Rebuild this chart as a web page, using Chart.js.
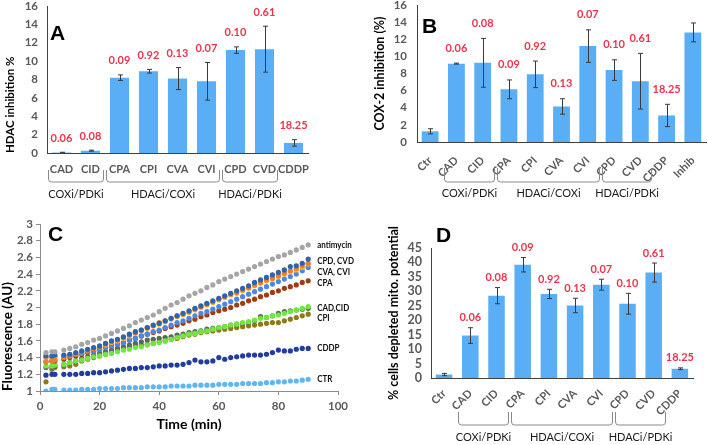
<!DOCTYPE html>
<html>
<head>
<meta charset="utf-8">
<script src="https://cdn.jsdelivr.net/npm/chart.js@4"></script>
<style>
  body { margin: 0; background: #fff; width: 708px; height: 445px; position: relative; overflow: hidden; }
  .panel { position: absolute; }
</style>
</head>
<body>
<div class="panel" style="left:0;top:0;width:354px;height:220px"><canvas id="chart-a"></canvas></div>
<div class="panel" style="left:354px;top:0;width:354px;height:220px"><canvas id="chart-b"></canvas></div>
<div class="panel" style="left:0;top:220px;width:354px;height:225px"><canvas id="chart-c"></canvas></div>
<div class="panel" style="left:354px;top:220px;width:354px;height:225px"><canvas id="chart-d"></canvas></div>
<script>
'use strict';

// PANEL A - HDAC inhibition
let catsA = ['CAD', 'CID', 'CPA', 'CPI', 'CVA', 'CVI', 'CPD', 'CVD', 'CDDP'];
let hdacMean = [0.05, 0.25, 8.2, 8.9, 8.1, 7.8, 11.2, 11.3, 1.1];
let hdacErr = [0.03, 0.06, 0.3, 0.2, 1.2, 2.05, 0.35, 2.5, 0.35];
let ic50A = ['0.06', '0.08', '0.09', '0.92', '0.13', '0.07', '0.10', '0.61', '18.25'];
let ticksA = [0, 2, 4, 6, 8, 10, 12, 14, 16];
let groupsA = [['COXi/PDKi', 0, 1], ['HDACi/COXi', 2, 5], ['HDACi/PDKi', 6, 7]];

// PANEL B - COX-2 inhibition
let catsB = ['Ctr', 'CAD', 'CID', 'CPA', 'CPI', 'CVA', 'CVI', 'CPD', 'CVD', 'CDDP', 'Inhib'];
let coxMean = [1.25, 9.15, 9.25, 6.15, 7.9, 4.15, 11.2, 8.4, 7.1, 3.1, 12.8];
let coxErr = [0.3, 0.06, 2.85, 1.1, 1.55, 0.9, 1.9, 1.2, 3.25, 1.3, 1.1];
let ic50B = ['', '0.06', '0.08', '0.09', '0.92', '0.13', '0.07', '0.10', '0.61', '18.25', ''];
let ticksB = [0, 2, 4, 6, 8, 10, 12, 14, 16];
let groupsB = [['COXi/PDKi', 1, 2], ['HDACi/COXi', 3, 6], ['HDACi/PDKi', 7, 8]];

// PANEL D - cells with depleted mitochondrial potential
let catsD = ['Ctr', 'CAD', 'CID', 'CPA', 'CPI', 'CVA', 'CVI', 'CPD', 'CVD', 'CDDP'];
let mitoMean = [1.2, 14.7, 28.5, 39.2, 29.1, 25.1, 32.3, 25.7, 36.5, 3.2];
let mitoErr = [0.4, 2.7, 2.8, 2.5, 1.6, 2.5, 1.9, 3.6, 3.3, 0.3];
let ic50D = ['', '0.06', '0.08', '0.09', '0.92', '0.13', '0.07', '0.10', '0.61', '18.25'];
let ticksD = [0, 5, 10, 15, 20, 25, 30, 35, 40, 45];
let groupsD = [['COXi/PDKi', 1, 2], ['HDACi/COXi', 3, 6], ['HDACi/PDKi', 7, 8]];

// PANEL C - fluorescence over time
let minutes = [2, 4, 5, 8, 10, 12, 14, 16, 18, 20, 22, 24, 26, 28, 30,
  32, 34, 36, 38, 40, 42, 44, 46, 48, 50, 52, 54, 56, 58, 60,
  62, 64, 66, 68, 70, 72, 74, 76, 78, 80, 82, 84, 86, 88, 90];
let antimycin = [1.46, 1.47, 1.47, 1.49, 1.51, 1.53, 1.56, 1.58, 1.61, 1.63, 1.66, 1.69, 1.72, 1.75, 1.78,
  1.82, 1.85, 1.88, 1.91, 1.95, 1.99, 2.03, 2.06, 2.10, 2.14, 2.17, 2.20, 2.24, 2.27, 2.31,
  2.34, 2.37, 2.40, 2.43, 2.46, 2.49, 2.52, 2.55, 2.58, 2.61, 2.63, 2.66, 2.69, 2.72, 2.75];
let cpd = [1.42, 1.42, 1.43, 1.43, 1.44, 1.46, 1.48, 1.50, 1.52, 1.54, 1.57, 1.60, 1.62, 1.65, 1.68,
  1.71, 1.73, 1.76, 1.79, 1.81, 1.84, 1.87, 1.90, 1.93, 1.96, 1.99, 2.02, 2.05, 2.08, 2.11,
  2.14, 2.17, 2.20, 2.23, 2.26, 2.30, 2.33, 2.36, 2.39, 2.42, 2.45, 2.49, 2.50, 2.53, 2.58];
let cvd = [1.35, 1.36, 1.37, 1.40, 1.42, 1.44, 1.47, 1.49, 1.51, 1.53, 1.56, 1.59, 1.61, 1.64, 1.67,
  1.70, 1.73, 1.76, 1.78, 1.82, 1.84, 1.87, 1.90, 1.92, 1.95, 1.98, 2.01, 2.04, 2.07, 2.10,
  2.13, 2.16, 2.18, 2.21, 2.24, 2.27, 2.30, 2.33, 2.35, 2.38, 2.41, 2.44, 2.47, 2.50, 2.53];
let cva = [1.40, 1.40, 1.41, 1.42, 1.44, 1.45, 1.47, 1.49, 1.51, 1.53, 1.55, 1.58, 1.60, 1.63, 1.66,
  1.69, 1.72, 1.75, 1.78, 1.80, 1.83, 1.86, 1.89, 1.92, 1.94, 1.97, 2.00, 2.03, 2.06, 2.09,
  2.12, 2.15, 2.17, 2.20, 2.23, 2.26, 2.29, 2.32, 2.34, 2.37, 2.40, 2.43, 2.45, 2.48, 2.52];
let cvi = [1.40, 1.41, 1.41, 1.42, 1.42, 1.44, 1.45, 1.47, 1.48, 1.50, 1.52, 1.54, 1.56, 1.58, 1.61,
  1.63, 1.66, 1.68, 1.71, 1.73, 1.76, 1.79, 1.82, 1.84, 1.87, 1.90, 1.93, 1.95, 1.98, 2.01,
  2.04, 2.07, 2.10, 2.13, 2.16, 2.19, 2.22, 2.25, 2.28, 2.31, 2.34, 2.37, 2.40, 2.44, 2.48];
let cpa = [1.35, 1.36, 1.36, 1.38, 1.40, 1.42, 1.44, 1.46, 1.48, 1.50, 1.52, 1.54, 1.56, 1.58, 1.61,
  1.63, 1.66, 1.68, 1.70, 1.72, 1.75, 1.77, 1.79, 1.81, 1.84, 1.86, 1.89, 1.91, 1.94, 1.96,
  1.98, 2.00, 2.03, 2.05, 2.08, 2.10, 2.13, 2.15, 2.18, 2.20, 2.23, 2.25, 2.27, 2.30, 2.32];
let cad = [1.30, 1.30, 1.31, 1.32, 1.34, 1.36, 1.37, 1.39, 1.41, 1.42, 1.44, 1.45, 1.47, 1.49, 1.50,
  1.52, 1.53, 1.55, 1.57, 1.58, 1.60, 1.62, 1.64, 1.66, 1.68, 1.69, 1.71, 1.72, 1.74, 1.76,
  1.77, 1.79, 1.80, 1.82, 1.83, 1.85, 1.87, 1.88, 1.90, 1.91, 1.93, 1.95, 1.97, 1.99, 2.01];
let cid = [1.28, 1.29, 1.30, 1.32, 1.34, 1.36, 1.39, 1.41, 1.43, 1.45, 1.47, 1.49, 1.51, 1.53, 1.55,
  1.57, 1.59, 1.61, 1.62, 1.63, 1.64, 1.65, 1.67, 1.68, 1.70, 1.71, 1.72, 1.74, 1.75, 1.76,
  1.77, 1.79, 1.80, 1.81, 1.82, 1.84, 1.89, 1.88, 1.90, 1.93, 1.95, 1.96, 1.97, 1.98, 1.99];
let cpi = [1.11, 1.26, 1.28, 1.29, 1.30, 1.32, 1.36, 1.38, 1.40, 1.42, 1.44, 1.46, 1.48, 1.50, 1.52,
  1.54, 1.55, 1.56, 1.57, 1.59, 1.60, 1.62, 1.63, 1.65, 1.67, 1.68, 1.70, 1.71, 1.72, 1.73,
  1.74, 1.75, 1.76, 1.77, 1.78, 1.79, 1.80, 1.81, 1.82, 1.82, 1.84, 1.86, 1.88, 1.90, 1.92];
let cddp = [1.19, 1.20, 1.20, 1.20, 1.20, 1.20, 1.21, 1.21, 1.22, 1.22, 1.23, 1.24, 1.25, 1.26, 1.27,
  1.27, 1.28, 1.28, 1.29, 1.30, 1.30, 1.31, 1.31, 1.32, 1.34, 1.37, 1.35, 1.35, 1.36, 1.40,
  1.38, 1.40, 1.41, 1.42, 1.43, 1.43, 1.43, 1.44, 1.46, 1.49, 1.48, 1.48, 1.50, 1.51, 1.51];
let ctr = [1.00, 1.02, 1.02, 1.01, 1.01, 1.01, 1.02, 1.02, 1.02, 1.03, 1.03, 1.03, 1.03, 1.04, 1.04,
  1.04, 1.04, 1.05, 1.05, 1.05, 1.05, 1.06, 1.06, 1.06, 1.06, 1.07, 1.07, 1.07, 1.07, 1.08,
  1.08, 1.08, 1.08, 1.09, 1.09, 1.09, 1.09, 1.10, 1.10, 1.11, 1.11, 1.12, 1.12, 1.13, 1.14];
let ticksCx = [0, 20, 40, 60, 80, 100];
let ticksCy = ['1', '1.2', '1.4', '1.6', '1.8', '2', '2.2', '2.4', '2.6', '2.8', '3'];
// series tags at the right end: text, fluorescence level
let tagsC = [['antimycin', 2.75], ['CPD, CVD', 2.56], ['CVA, CVI', 2.43], ['CPA', 2.30],
  ['CAD,CID', 1.99], ['CPI', 1.87], ['CDDP', 1.51], ['CTR', 1.14]];

// STYLE
const BAR_BLUE = '#5aaef5';
const RED = '#e8364f';
const TICK_GREY = '#595959';
const FONT = 'Lato';

Chart.defaults.font.family = FONT;
Chart.defaults.color = TICK_GREY;
Chart.defaults.animation = false;

// PLUGIN - error bars, red IC50 labels, group brackets and panel letter
function extrasPlugin(cfg) {
  return {
    id: 'extras',
    afterDatasetsDraw(chart) {
      const ctx = chart.ctx;
      const x = chart.scales.x;
      const y = chart.scales.y;
      const meta = chart.getDatasetMeta(0);
      const means = chart.data.datasets[0].data;
      ctx.save();

      // ERROR BARS
      ctx.strokeStyle = '#3a3a3a';
      ctx.lineWidth = 1;
      for (let i = 0; i < cfg.errors.length; i++) {
        let px = Math.round(meta.data[i].x) + 0.5;
        let top = y.getPixelForValue(means[i] + cfg.errors[i]);
        let bot = y.getPixelForValue(means[i] - cfg.errors[i]);
        ctx.beginPath();
        ctx.moveTo(px, top); ctx.lineTo(px, bot);
        ctx.moveTo(px - 2.5, top); ctx.lineTo(px + 2.5, top);
        ctx.moveTo(px - 2.5, bot); ctx.lineTo(px + 2.5, bot);
        ctx.stroke();
      }

      // RED LABELS
      ctx.fillStyle = RED;
      ctx.font = 'bold 11px ' + FONT;
      ctx.textAlign = 'center';
      ctx.textBaseline = 'middle';
      for (let i = 0; i < cfg.labels.length; i++) {
        if (!cfg.labels[i]) continue;
        let top = y.getPixelForValue(means[i] + cfg.errors[i]);
        ctx.fillText(cfg.labels[i], meta.data[i].x, top - cfg.labelGap);
      }

      // GROUP BRACKETS
      let half = (x.getPixelForValue(1) - x.getPixelForValue(0)) / 2;
      ctx.strokeStyle = '#8a8a8a';
      ctx.fillStyle = '#1a1a1a';
      ctx.font = '11px ' + FONT;
      for (let g of cfg.groups) {
        let x1 = Math.round(x.getPixelForValue(g[1]) - half + 1) + 0.5;
        let x2 = Math.round(x.getPixelForValue(g[2]) + half - 2) + 0.5;
        let t = cfg.bracket[0];
        let b = cfg.bracket[1];
        ctx.beginPath();
        ctx.moveTo(x1, t);
        ctx.lineTo(x1, b - 3);
        ctx.quadraticCurveTo(x1, b, x1 + 3, b);
        ctx.lineTo(x2 - 3, b);
        ctx.quadraticCurveTo(x2, b, x2, b - 3);
        ctx.lineTo(x2, t);
        ctx.stroke();
        ctx.fillText(g[0], (x1 + x2) / 2, cfg.bracket[2]);
      }

      // PANEL LETTER
      ctx.fillStyle = '#000';
      ctx.font = 'bold 21px "Liberation Sans"';
      ctx.textAlign = 'left';
      ctx.textBaseline = 'alphabetic';
      ctx.fillText(cfg.letter[0], cfg.letter[1], cfg.letter[2]);
      ctx.restore();
    }
  };
}

// HELPER - one bar panel
function makeBarChart(id, cats, means, ticks, yTitle, lay, extras) {
  return new Chart(document.getElementById(id), {
    type: 'bar',
    data: {
      labels: cats,
      datasets: [{
        data: means,
        backgroundColor: BAR_BLUE,
        borderWidth: 0,
        barPercentage: lay.barPct,
        categoryPercentage: 1
      }]
    },
    options: {
      responsive: true,
      maintainAspectRatio: false,
      layout: { padding: lay.padding },
      plugins: { legend: { display: false }, tooltip: { enabled: false } },
      scales: {
        x: {
          grid: { display: false, drawTicks: false },
          border: { display: true, color: '#404040', width: 1 },
          ticks: {
            autoSkip: false,
            minRotation: lay.rot,
            maxRotation: lay.rot,
            padding: lay.xPad,
            color: TICK_GREY,
            font: { size: 11, weight: 'bold' }
          },
          afterFit: function(s) { s.height = lay.xHeight; s.paddingLeft = 0; s.paddingRight = 0; }
        },
        y: {
          min: ticks[0],
          max: ticks[ticks.length - 1],
          grid: { display: false, drawTicks: false },
          border: { display: true, color: '#404040', width: 1 },
          ticks: { autoSkip: false, padding: lay.yPad, color: TICK_GREY, font: { size: lay.yFont, weight: 'bold' } },
          afterBuildTicks: function(s) { s.ticks = ticks.map(v => ({ value: v })); },
          title: {
            display: true,
            text: yTitle,
            align: lay.titleAlign,
            color: '#000',
            font: { size: lay.titleFont, weight: 'bold' },
            padding: { top: lay.titlePad, bottom: 0 }
          },
          afterFit: function(s) { s.width = lay.yWidth; s.paddingTop = 0; s.paddingBottom = 0; }
        }
      }
    },
    plugins: [extrasPlugin(extras)]
  });
}

// PANEL A
makeBarChart('chart-a', catsA, hdacMean, ticksA, 'HDAC inhibition %',
  { padding: { top: 6, right: 46, left: 0, bottom: 0 }, yWidth: 47, xHeight: 67, barPct: 0.66,
    rot: 0, xPad: 10, yPad: 9, yFont: 11.5, titleAlign: 'start', titleFont: 11.5, titlePad: 3 },
  { errors: hdacErr, labels: ic50A, labelGap: 14, groups: groupsA, bracket: [170, 182, 194], letter: ['A', 50, 40] });

// PANEL B
makeBarChart('chart-b', catsB, coxMean, ticksB, 'COX-2 inhibition (%)',
  { padding: { top: 5, right: 2, left: 0, bottom: 0 }, yWidth: 63, xHeight: 78, barPct: 0.64,
    rot: 45, xPad: 12, yPad: 10, yFont: 11.5, titleAlign: 'center', titleFont: 12.5, titlePad: 18 },
  { errors: coxErr, labels: ic50B, labelGap: 15, groups: groupsB, bracket: [168, 182, 193], letter: ['B', 68, 33] });

// PANEL D
makeBarChart('chart-d', catsD, mitoMean, ticksD, '% cells depleted mito. potential',
  { padding: { top: 28, right: 15, left: 0, bottom: 0 }, yWidth: 77, xHeight: 67, barPct: 0.63,
    rot: 45, xPad: 9, yPad: 9, yFont: 12.5, titleAlign: 'center', titleFont: 12.5, titlePad: 32 },
  { errors: mitoErr, labels: ic50D, labelGap: 10, groups: groupsD, bracket: [192, 205, 217], letter: ['D', 82, 22] });

// PANEL C
let seriesC = [
  ['antimycin', antimycin, '#a5a5a5'],
  ['CPD', cpd, '#2e64ad'],
  ['CVD', cvd, '#ed7d31'],
  ['CVA', cva, '#f4b62c'],
  ['CVI', cvi, '#4f87e0'],
  ['CPA', cpa, '#9e3d14'],
  ['CAD', cad, '#6fe83c'],
  ['CID', cid, '#56695f'],
  ['CPI', cpi, '#8d7a1c'],
  ['CDDP', cddp, '#1f3c9e'],
  ['CTR', ctr, '#62b6f0']
];

let tagPlugin = {
  id: 'seriesTags',
  afterDatasetsDraw(chart) {
    const ctx = chart.ctx;
    const x = chart.scales.x;
    const y = chart.scales.y;
    ctx.save();
    ctx.fillStyle = '#111';
    ctx.font = 'bold 9.5px ' + FONT;
    ctx.textAlign = 'left';
    ctx.textBaseline = 'middle';
    for (let t of tagsC) {
      // squeeze a little, the original font is narrower
      let w = ctx.measureText(t[0]).width * 0.84;
      ctx.fillText(t[0], x.getPixelForValue(93), y.getPixelForValue(t[1]), w);
    }
    ctx.fillStyle = '#000';
    ctx.font = 'bold 21px "Liberation Sans"';
    ctx.textBaseline = 'alphabetic';
    ctx.fillText('C', 48, 21);
    ctx.restore();
  }
};

new Chart(document.getElementById('chart-c'), {
  type: 'scatter',
  data: {
    datasets: seriesC.map(s => ({
      label: s[0],
      data: s[1].map((v, i) => ({ x: minutes[i], y: v })),
      backgroundColor: s[2],
      borderWidth: 0,
      pointRadius: 2.6,
      showLine: false
    }))
  },
  options: {
    responsive: true,
    maintainAspectRatio: false,
    layout: { padding: { top: 3, right: 16, left: 0, bottom: 0 } },
    plugins: { legend: { display: false }, tooltip: { enabled: false } },
    scales: {
      x: {
        type: 'linear',
        min: 0,
        max: 100,
        grid: { display: true, drawOnChartArea: false, drawTicks: true, tickLength: 4, color: '#8c8c8c' },
        border: { display: true, color: '#8c8c8c', width: 1 },
        ticks: { autoSkip: false, padding: 4, color: TICK_GREY, font: { size: 11.5, weight: 'bold' } },
        afterBuildTicks: function(s) { s.ticks = ticksCx.map(v => ({ value: v })); },
        title: {
          display: true,
          text: 'Time (min)',
          color: '#000',
          font: { size: 14, weight: 'bold' },
          padding: { top: 0, bottom: 12 }
        },
        afterFit: function(s) { s.height = 54; s.paddingLeft = 0; s.paddingRight = 0; }
      },
      y: {
        type: 'linear',
        min: 1,
        max: 3,
        grid: { display: true, drawOnChartArea: false, drawTicks: true, tickLength: 4, color: '#8c8c8c' },
        border: { display: true, color: '#8c8c8c', width: 1 },
        ticks: {
          autoSkip: false,
          autoSkipPadding: 0,
          padding: 3,
          color: TICK_GREY,
          font: { size: 11.5, weight: 'bold' },
          callback: function(v, i) { return ticksCy[i]; }
        },
        afterBuildTicks: function(s) { s.ticks = ticksCy.map(v => ({ value: Number(v) })); },
        title: {
          display: true,
          text: 'Fluorescence (AU)',
          align: 'start',
          color: '#000',
          font: { size: 13.5, weight: 'bold' },
          padding: { top: 0, bottom: 0 }
        },
        afterFit: function(s) { s.width = 40; s.paddingTop = 0; s.paddingBottom = 0; }
      }
    }
  },
  plugins: [tagPlugin]
});
</script>
</body>
</html>
